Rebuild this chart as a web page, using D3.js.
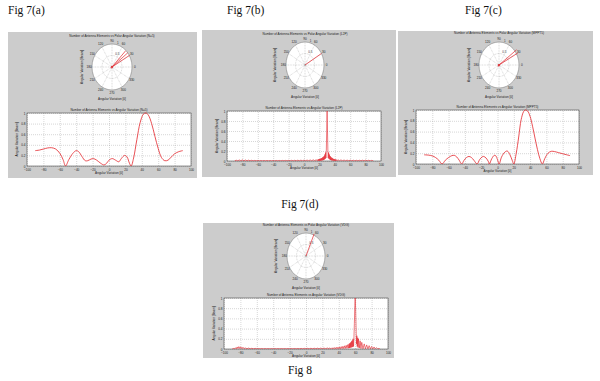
<!DOCTYPE html>
<html><head><meta charset="utf-8">
<script src="https://cdn.jsdelivr.net/npm/d3@7"></script>
<style>body{margin:0;background:#fff}svg{display:block;font-family:Arial,"Liberation Sans",sans-serif}</style>
</head><body><svg id="c" width="600" height="381"></svg>
<script>
const xTicks=[-100,-80,-60,-40,-20,0,20,40,60,80,100];
const yTicks=[0,0.2,0.4,0.6,0.8,1];
const yTickLabels=["0","0.2","0.4","0.6","0.8","1"];
const polarAngleLabels=[0,30,60,90,120,150,180,210,240,270,300,330];
const polarRings=[0.5,1];
const figLabels=["Fig 7(a)","Fig 7(b)","Fig 7(c)","Fig 7(d)","Fig 8"];
const polarTitles=["Number of Antenna Elements vs Polar Angular Variation (N=5)","Number of Antenna Elements vs Polar Angular Variation (L2P)","Number of Antenna Elements vs Polar Angular Variation (MPPT5)","Number of Antenna Elements vs Polar Angular Variation (VDG)"];
const lineTitles=["Number of Antenna Elements vs Angular Variation (N=5)","Number of Antenna Elements vs Angular Variation (L2P)","Number of Antenna Elements vs Angular Variation (MPPT5)","Number of Antenna Elements vs Angular Variation (VDG)"];
const xLabel="Angular Variation [θ]";
const yLabel="Angular Variation [Beam]";

const seriesA=[[-90,0.29],[-85,0.30],[-80,0.32],[-75,0.34],[-70,0.345],[-65,0.32],[-60,0.24],[-56,0.12],[-53,0.0],[-49,0.12],[-44,0.24],[-40,0.29],[-37,0.27],[-33,0.18],[-29,0.1],[-26,0.1],[-22,0.13],[-19,0.14],[-15,0.11],[-10,0.05],[-6,0.02],[-3,0.05],[0,0.11],[4,0.14],[8,0.11],[12,0.08],[15,0.14],[19,0.2],[22,0.17],[25,0.05],[27,0.0],[30,0.15],[34,0.5],[38,0.82],[42,0.98],[45,1.0],[48,0.96],[52,0.8],[56,0.56],[60,0.33],[64,0.16],[68,0.1],[72,0.11],[76,0.17],[80,0.23],[85,0.27],[90,0.29]];

const seriesB=[[-90,0.004],[-88,0.016],[-86,0.004],[-84,0.02],[-82,0.005],[-80,0.022],[-78,0.005],[-76,0.02],[-74,0.004],[-72,0.017],[-70,0.004],[-68,0.014],[-66,0.003],[-64,0.012],[-62,0.003],[-60,0.011],[-58,0.002],[-56,0.01],[-54,0.002],[-52,0.01],[-50,0.002],[-48,0.01],[-46,0.002],[-44,0.01],[-42,0.002],[-40,0.01],[-38,0.002],[-36,0.011],[-34,0.002],[-32,0.011],[-30,0.002],[-28,0.012],[-26,0.003],[-24,0.012],[-22,0.003],[-20,0.013],[-18,0.003],[-16,0.014],[-14,0.003],[-12,0.015],[-10,0.004],[-8,0.016],[-6,0.004],[-4,0.017],[-2,0.004],[0,0.018],[2,0.005],[4,0.019],[6,0.005],[8,0.021],[10,0.005],[12,0.023],[14,0.006],[16,0.026],[17,0.006],
[18,0.03],[18.5,0.005],[19,0.035],[19.5,0.005],[20,0.04],[20.5,0.006],[21,0.045],[21.5,0.008],[22,0.05],[22.5,0.01],[23,0.06],[23.5,0.012],[24,0.07],[24.5,0.015],[25,0.08],[25.5,0.02],[26,0.1],[26.5,0.03],[27,0.13],[27.5,0.04],[28,0.17],[28.5,0.06],[29,0.22],[29.5,0.6],[30,1.0],[30.5,0.6],[31,0.22],[31.5,0.06],[32,0.17],[32.5,0.04],[33,0.13],[33.5,0.03],[34,0.1],[34.5,0.02],[35,0.08],[35.5,0.015],[36,0.065],[36.5,0.01],[37,0.055],[37.5,0.01],[38,0.045],[38.5,0.008],[39,0.04],[39.5,0.006],[40,0.035],[40.5,0.005],[41,0.03],[41.5,0.005],[42,0.027],
[43,0.006],[44,0.025],[46,0.005],[48,0.022],[50,0.005],[52,0.02],[54,0.004],[56,0.018],[58,0.004],[60,0.017],[62,0.004],[64,0.016],[66,0.003],[68,0.015],[70,0.003],[72,0.015],[74,0.003],[76,0.016],[78,0.003],[80,0.017],[82,0.003],[84,0.015],[86,0.003],[88,0.012],[90,0.003]];

const seriesC=[[-90,0.17],[-85,0.165],[-80,0.15],[-76,0.12],[-72,0.07],[-68,0.0],[-64,0.07],[-60,0.12],[-56,0.155],[-53,0.16],[-50,0.13],[-47,0.07],[-44,0.0],[-41,0.07],[-38,0.12],[-35,0.14],[-32,0.12],[-29,0.07],[-25,0.0],[-22,0.08],[-19,0.13],[-17,0.14],[-14,0.11],[-11,0.04],[-10,0.0],[-7,0.1],[-4,0.16],[-2,0.15],[0,0.08],[2,0.0],[5,0.13],[9,0.22],[12,0.24],[15,0.18],[18,0.07],[20,0.0],[23,0.2],[26,0.5],[29,0.82],[32,0.97],[34,1.0],[37,0.98],[40,0.88],[43,0.7],[46,0.48],[49,0.27],[52,0.1],[55,0.0],[58,0.1],[62,0.2],[66,0.235],[70,0.23],[75,0.21],[80,0.19],[85,0.17],[89,0.155]];

const seriesD=[[-90,0.002],[-88,0.01],[-87,0.003],[-86,0.025],[-85,0.006],[-84,0.04],[-83,0.01],[-82,0.046],[-81,0.012],[-80,0.042],[-79,0.01],[-78,0.035],[-77,0.008],[-76,0.028],[-75,0.006],[-74,0.022],[-72,0.005],[-70,0.018],[-68,0.004],[-66,0.014],[-64,0.003],[-62,0.012],[-60,0.003],[-58,0.01],[-56,0.002],[-54,0.009],[-52,0.002],[-50,0.008],[-48,0.002],[-46,0.008],[-44,0.002],[-42,0.008],[-40,0.002],[-38,0.008],[-36,0.002],[-34,0.008],[-32,0.002],[-30,0.008],[-28,0.002],[-26,0.008],[-24,0.002],[-22,0.009],[-20,0.002],[-18,0.009],[-16,0.002],[-14,0.01],[-12,0.002],[-10,0.01],[-8,0.003],[-6,0.011],[-4,0.003],[-2,0.012],[0,0.003],[2,0.013],[4,0.003],[6,0.014],[8,0.004],[10,0.015],[12,0.004],[14,0.016],[16,0.004],[18,0.017],[20,0.005],[22,0.018],[24,0.005],[26,0.019],[28,0.005],[29,0.02],
[30,0.004],[31,0.022],[32,0.004],[33,0.025],[34,0.005],[35,0.028],[36,0.005],[37,0.032],[38,0.006],[39,0.036],[40,0.007],[41,0.04],[42,0.008],[43,0.046],[44,0.009],[45,0.053],[46,0.01],[47,0.062],[48,0.012],[49,0.072],[50,0.014],[51,0.085],[52,0.016],[52.5,0.1],[53,0.02],[53.5,0.115],[54,0.025],[54.5,0.13],[55,0.03],[55.5,0.15],[56,0.035],[56.5,0.17],[57,0.04],[57.5,0.2],[58,0.05],[58.5,0.24],[59,0.5],[59.5,0.85],[60,1.0],
[60.5,0.8],[61,0.45],[61.5,0.1],[62,0.26],[62.5,0.05],[63,0.22],[63.5,0.03],[64,0.2],[65,0.02],[66,0.16],[67,0.01],[68,0.13],[69.5,0.005],[71,0.1],[72.5,0.004],[74,0.08],[75.5,0.003],[77,0.065],[78.5,0.003],[80,0.05],[81.5,0.002],[83,0.04],[84.5,0.002],[86,0.025],[87.5,0.001],[89,0.012],[90,0.002]];

const polarRaysA=[[30,1.02],[38,1.0],[46,0.98],[200,0.08],[150,0.06],[260,0.07],[320,0.06],[100,0.05]];
const polarRaysB=[[30,1.0]];
const polarRaysC=[[29,1.08],[37,1.1],[210,0.08],[170,0.06],[250,0.07],[300,0.06],[120,0.05]];
const polarRaysD=[[66,1.05]];

const allSeries=[seriesA,seriesB,seriesC,seriesD];
const allRays=[polarRaysA,polarRaysB,polarRaysC,polarRaysD];

const panels=[
 {box:[8,32,197,178],cx:112,cy:67,rx:20,ry:23,pt:37,plot:[27,113,191,166],curve:"smooth"},
 {box:[202,30,396,177],cx:305,cy:65,rx:19,ry:23,pt:35,plot:[227,111,381,161],curve:"linear"},
 {box:[398,31,593,175],cx:499,cy:65,rx:20,ry:23,pt:34,plot:[416,110,579,164],curve:"smooth"},
 {box:[203,223,394,358],cx:306,cy:256,rx:19,ry:23,pt:225.5,plot:[224,298,388,349],curve:"linear"}
];
const figPos=[[8,14,"start"],[227,14,"start"],[465,14,"start"],[300,208,"middle"],[300,374,"middle"]];

const svg=d3.select("#c");
svg.append("rect").attr("width",600).attr("height",381).attr("fill","#fff");
const RED="#e3242b";

figLabels.forEach((t,i)=>{
  svg.append("text").attr("x",figPos[i][0]).attr("y",figPos[i][1]).attr("text-anchor",figPos[i][2])
   .attr("font-family","'Liberation Serif','Times New Roman',serif").attr("font-size",11.5).attr("fill","#111").text(t);
});

panels.forEach((p,i)=>{
  const g=svg.append("g");
  const [bx0,by0,bx1,by1]=p.box;
  g.append("rect").attr("x",bx0).attr("y",by0).attr("width",bx1-bx0).attr("height",by1-by0).attr("fill","#cccccc");

  // ---- polar ----
  const rsx=d3.scaleLinear([0,1],[0,p.rx]);
  const rsy=d3.scaleLinear([0,1],[0,p.ry]);
  const pt=(a,r)=>[p.cx+rsx(r)*Math.cos(a*Math.PI/180),p.cy-rsy(r)*Math.sin(a*Math.PI/180)];
  g.append("ellipse").attr("cx",p.cx).attr("cy",p.cy).attr("rx",rsx(1)).attr("ry",rsy(1)).attr("fill","#fff").attr("stroke","#555").attr("stroke-width",0.4);
  polarRings.filter(r=>r<1).forEach(r=>{
    g.append("ellipse").attr("cx",p.cx).attr("cy",p.cy).attr("rx",rsx(r)).attr("ry",rsy(r)).attr("fill","none").attr("stroke","#888").attr("stroke-width",0.35).attr("stroke-dasharray","0.8,0.8");
  });
  polarAngleLabels.forEach(a=>{
    const e=pt(a,1);
    g.append("line").attr("x1",p.cx).attr("y1",p.cy).attr("x2",e[0]).attr("y2",e[1]).attr("stroke","#888").attr("stroke-width",0.35).attr("stroke-dasharray","0.8,0.8");
    const l=pt(a,1.14);
    g.append("text").attr("x",l[0]).attr("y",l[1]+1).attr("text-anchor","middle").attr("font-size",3.1).attr("fill","#222").text(a);
  });
  polarRings.forEach(r=>{
    const l=pt(80,r);
    g.append("text").attr("x",l[0]+1.5).attr("y",l[1]-0.5).attr("font-size",3).attr("fill","#333").text(r);
  });
  allRays[i].forEach(([a,r])=>{
    const e=pt(a,r);
    g.append("line").attr("x1",p.cx).attr("y1",p.cy).attr("x2",e[0]).attr("y2",e[1]).attr("stroke",RED).attr("stroke-width",0.7);
  });
  g.append("text").attr("x",p.cx).attr("y",p.pt).attr("text-anchor","middle").attr("font-size",3.1).attr("fill","#222").text(polarTitles[i]);
  g.append("text").attr("x",p.cx).attr("y",p.cy+32.5).attr("text-anchor","middle").attr("font-size",3.1).attr("fill","#222").text(xLabel);
  g.append("text").attr("transform",`translate(${p.cx-29},${p.cy}) rotate(-90)`).attr("text-anchor","middle").attr("font-size",3.1).attr("fill","#222").text(yLabel);

  // ---- cartesian ----
  const [x0,y0,x1,y1]=p.plot;
  const x=d3.scaleLinear([-100,100],[x0,x1]);
  const y=d3.scaleLinear([0,1],[y1,y0]);
  g.append("rect").attr("x",x0).attr("y",y0).attr("width",x1-x0).attr("height",y1-y0).attr("fill","#fff");
  const gx=g.append("g").attr("transform",`translate(0,${y1})`).call(d3.axisBottom(x).tickValues(xTicks).tickSize(-(y1-y0)).tickFormat(""));
  gx.select(".domain").remove();
  gx.selectAll("line").attr("stroke","#999").attr("stroke-width",0.4).attr("stroke-dasharray","1,1");
  const gy=g.append("g").attr("transform",`translate(${x0},0)`).call(d3.axisLeft(y).tickValues(yTicks).tickSize(-(x1-x0)).tickFormat(""));
  gy.select(".domain").remove();
  gy.selectAll("line").attr("stroke","#999").attr("stroke-width",0.4).attr("stroke-dasharray","1,1");
  g.append("rect").attr("x",x0).attr("y",y0).attr("width",x1-x0).attr("height",y1-y0).attr("fill","none").attr("stroke","#333").attr("stroke-width",0.5);
  const lx=g.append("g").attr("transform",`translate(0,${y1})`).call(d3.axisBottom(x).tickValues(xTicks).tickSize(0).tickPadding(2.4));
  lx.select(".domain").remove();
  lx.selectAll("text").attr("font-size",3.1).attr("fill","#222");
  const ly=g.append("g").attr("transform",`translate(${x0},0)`).call(d3.axisLeft(y).tickValues(yTicks).tickSize(0).tickPadding(1.5).tickFormat((d,k)=>yTickLabels[k]));
  ly.select(".domain").remove();
  ly.selectAll("text").attr("font-size",3.1).attr("fill","#222");

  const cid="clip"+i;
  svg.append("clipPath").attr("id",cid).append("rect").attr("x",x0).attr("y",y0-1).attr("width",x1-x0).attr("height",y1-y0+1);
  const line=d3.line().x(d=>x(d[0])).y(d=>y(d[1])).curve(p.curve==="smooth"?d3.curveCatmullRom.alpha(0.5):d3.curveLinear);
  g.append("path").datum(allSeries[i]).attr("clip-path",`url(#${cid})`).attr("d",line).attr("fill","none").attr("stroke",RED).attr("stroke-width",p.curve==="smooth"?0.8:0.6);

  g.append("text").attr("x",(x0+x1)/2).attr("y",y0-2).attr("text-anchor","middle").attr("font-size",3.1).attr("fill","#222").text(lineTitles[i]);
  g.append("text").attr("x",(x0+x1)/2).attr("y",y1+8).attr("text-anchor","middle").attr("font-size",3.1).attr("fill","#222").text(xLabel);
  g.append("text").attr("transform",`translate(${x0-9},${(y0+y1)/2}) rotate(-90)`).attr("text-anchor","middle").attr("font-size",3.1).attr("fill","#222").text(yLabel);
});
</script></body></html>
